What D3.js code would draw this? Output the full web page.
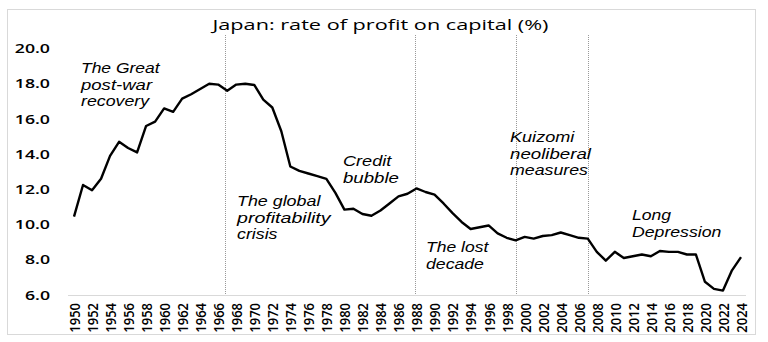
<!DOCTYPE html>
<html><head><meta charset="utf-8">
<script src="https://cdn.jsdelivr.net/npm/d3@7"></script>
<style>
body{margin:0;background:#fff}
svg{display:block}
text{font-family:"Open Sans",sans-serif;fill:#000}
</style>
</head><body>
<svg id="c" width="768" height="342"></svg>
<script>
// ---------- data ----------
const years = [1950,1951,1952,1953,1954,1955,1956,1957,1958,1959,
  1960,1961,1962,1963,1964,1965,1966,1967,1968,1969,
  1970,1971,1972,1973,1974,1975,1976,1977,1978,1979,
  1980,1981,1982,1983,1984,1985,1986,1987,1988,1989,
  1990,1991,1992,1993,1994,1995,1996,1997,1998,1999,
  2000,2001,2002,2003,2004,2005,2006,2007,2008,2009,
  2010,2011,2012,2013,2014,2015,2016,2017,2018,2019,
  2020,2021,2022,2023,2024];
const profitRate = [10.45,12.25,11.95,12.6,13.9,14.7,14.35,14.1,15.6,15.85,
  16.6,16.4,17.15,17.4,17.7,18.0,17.95,17.6,17.95,18.0,
  17.93,17.1,16.65,15.3,13.3,13.05,12.9,12.75,12.6,11.8,
  10.85,10.9,10.6,10.5,10.8,11.2,11.6,11.75,12.05,11.85,
  11.7,11.2,10.65,10.15,9.75,9.85,9.95,9.5,9.25,9.1,
  9.3,9.2,9.35,9.4,9.55,9.4,9.25,9.2,8.45,7.95,
  8.45,8.1,8.2,8.3,8.2,8.5,8.45,8.45,8.3,8.3,
  6.75,6.35,6.25,7.4,8.15];
const yTicks = [6,8,10,12,14,16,18,20];
const xTickYears = [1950,1952,1954,1956,1958,1960,1962,1964,1966,1968,
  1970,1972,1974,1976,1978,1980,1982,1984,1986,1988,1990,1992,1994,1996,
  1998,2000,2002,2004,2006,2008,2010,2012,2014,2016,2018,2020,2022,2024];
const periodBreaks = [1966.8, 1987.85, 1999, 2007];
const titleText = "Japan: rate of profit on capital (%)";
const annotationTexts = [
  ["The Great","post-war","recovery"],
  ["The global","profitability","crisis"],
  ["Credit","bubble"],
  ["The lost","decade"],
  ["Kuizomi","neoliberal","measures"],
  ["Long","Depression"]
];

// ---------- layout ----------
const annotationPos = [
  {x:81,y:73},{x:237,y:206},{x:343,y:166},{x:426,y:252},{x:510,y:142},{x:632,y:220}
];
const lineGap = 16.7;

const svg = d3.select("#c");
const x = d3.scaleLinear().domain([1950,2024]).range([74,741]);
const y = d3.scaleLinear().domain([6,20]).range([295,48.5]);

function stretchX(sel,k){
  sel.each(function(){
    const w=this.getComputedTextLength();
    this.setAttribute("textLength", w*k);
    this.setAttribute("lengthAdjust","spacingAndGlyphs");
  });
}

// border
svg.append("rect").attr("x",7.5).attr("y",9.5).attr("width",748).attr("height",325)
  .attr("fill","#fff").attr("stroke","#d9d9d9").attr("stroke-width",1);

// title
svg.append("text").attr("x",380.5).attr("y",30)
  .attr("text-anchor","middle").style("font-size","15px").style("font-weight",500)
  .attr("textLength",336).attr("lengthAdjust","spacingAndGlyphs")
  .text(titleText);

// x axis baseline
svg.append("line").attr("x1",68).attr("x2",746).attr("y1",y(6)+0.5).attr("y2",y(6)+0.5)
  .attr("stroke","#d9d9d9").attr("stroke-width",1);

// period break dotted lines
svg.selectAll("line.brk").data(periodBreaks).join("line").attr("class","brk")
  .attr("x1",d=>Math.round(x(d))+0.5).attr("x2",d=>Math.round(x(d))+0.5)
  .attr("y1",35).attr("y2",y(6))
  .attr("stroke","#999").attr("stroke-width",1).attr("stroke-dasharray","1,1");

// y axis
const yAxis = svg.append("g").attr("transform","translate(74,0)")
  .call(d3.axisLeft(y).tickValues(yTicks).tickFormat(d3.format(".1f")).tickSize(0).tickPadding(24));
yAxis.select(".domain").remove();
yAxis.selectAll("text").style("font-size","13px").style("font-weight",600)
  .style("font-family","'Open Sans',sans-serif").attr("fill","#000");
stretchX(yAxis.selectAll("text"),1.36);

// x axis
const xAxis = svg.append("g").attr("transform",`translate(0,${y(6)})`)
  .call(d3.axisBottom(x).tickValues(xTickYears).tickFormat(d3.format("d")).tickSize(0));
xAxis.select(".domain").remove();
xAxis.selectAll("text")
  .style("font-size","13px").style("font-weight",600)
  .style("font-family","'Open Sans',sans-serif").attr("fill","#000")
  .style("text-anchor","end")
  .attr("y",0)
  .attr("transform","rotate(-90) scale(1,1.15)")
  .attr("x",-8).attr("dy","0.36em");

// line
svg.append("path").datum(profitRate)
  .attr("fill","none").attr("stroke","#000").attr("stroke-width",2.4)
  .attr("stroke-linejoin","round")
  .attr("d",d3.line().x((d,i)=>x(years[i])).y(d=>y(d)));

// annotations (width measured in Open Sans, drawn in a font with a compact line box)
annotationTexts.forEach((lines,i)=>{
  const p = annotationPos[i];
  lines.forEach((s,j)=>{
    const t = svg.append("text").attr("x",p.x).attr("y",p.y+j*lineGap)
      .style("font-size","14.5px").style("font-style","italic").style("font-weight",500)
      .text(s);
    const w = t.node().getComputedTextLength();
    t.style("font-family","'Liberation Sans',Arial,sans-serif").style("font-weight",400)
      .attr("textLength",w*1.26).attr("lengthAdjust","spacingAndGlyphs");
  });
});
</script>
</body></html>
